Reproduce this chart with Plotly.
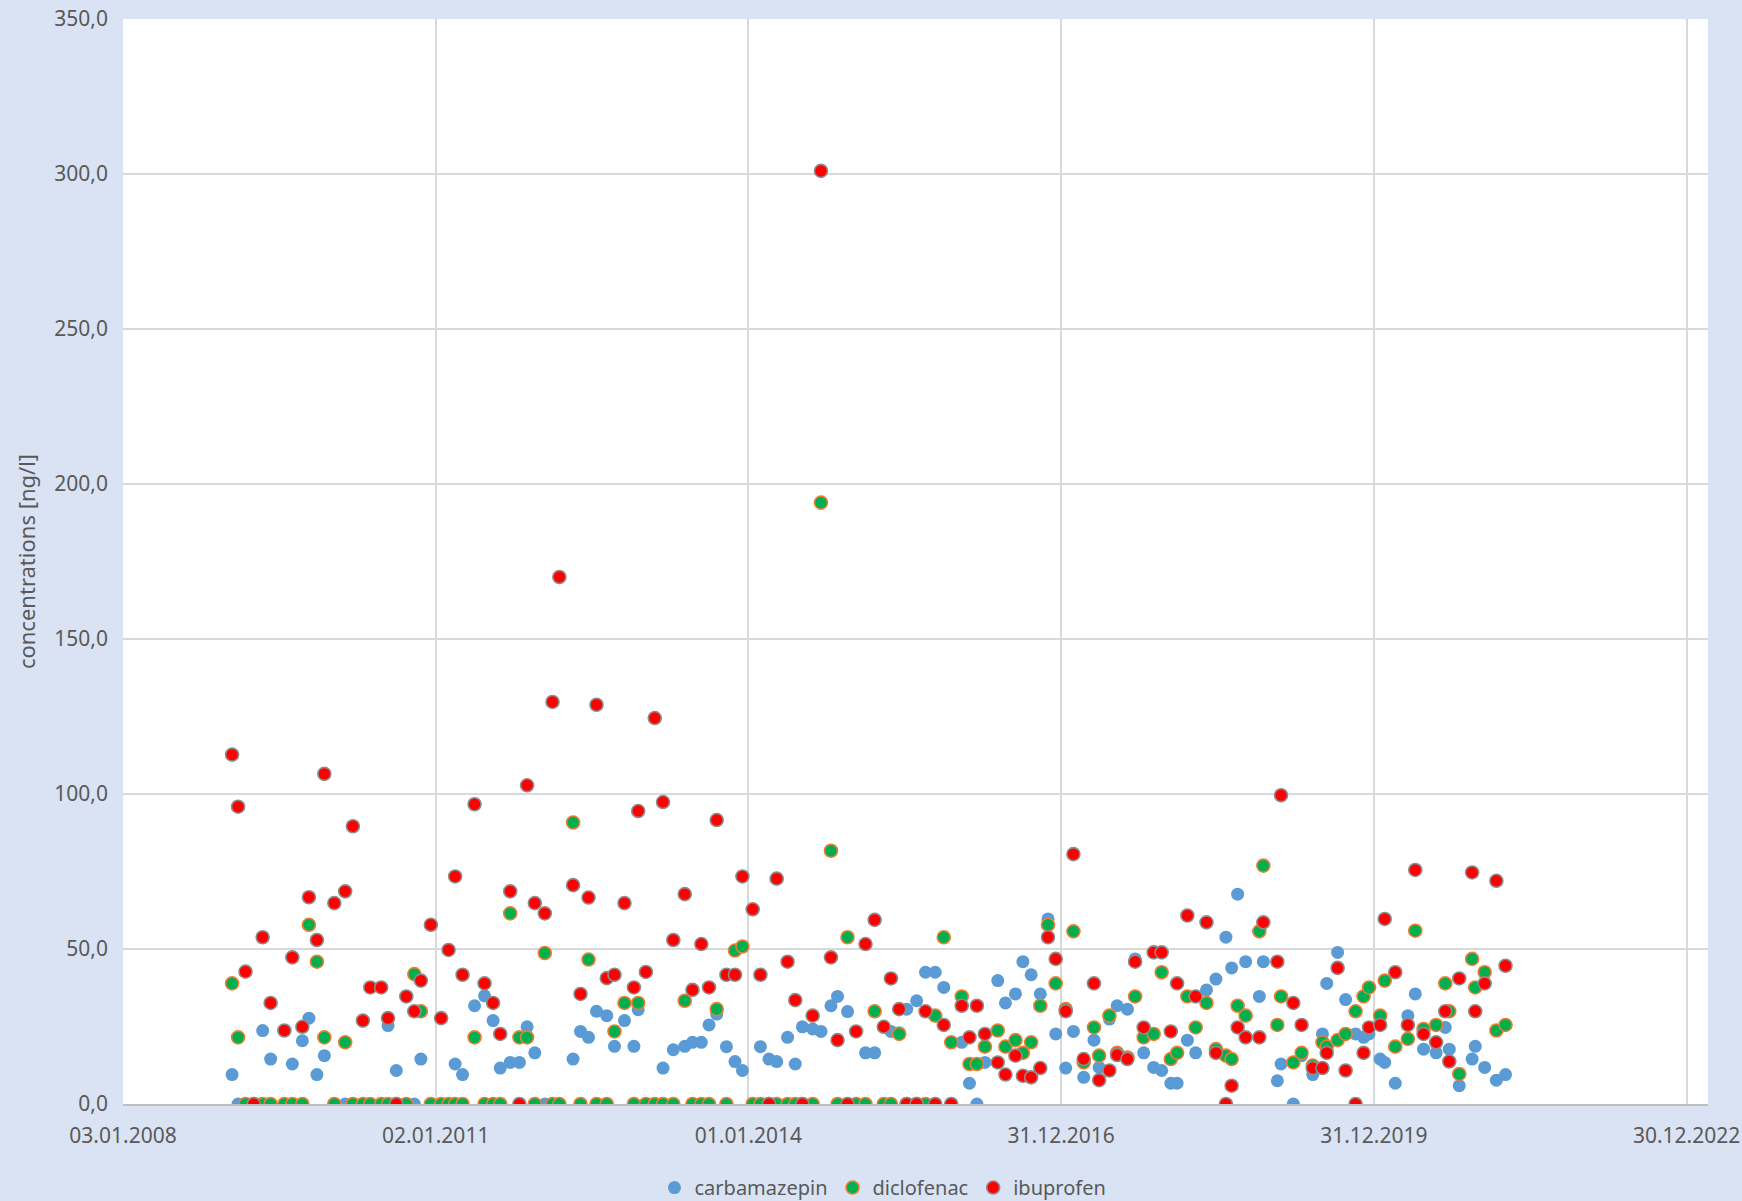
import plotly.graph_objects as go

# sampling dates (roughly monthly) and measured concentrations in ng/l
sample_dates = [
    "2009-01-19", "2009-02-09", "2009-03-07", "2009-04-05", "2009-05-06", "2009-06-03",
    "2009-07-21", "2009-08-18", "2009-09-22", "2009-10-15", "2009-11-12", "2009-12-08",
    "2010-01-12", "2010-02-19", "2010-03-18", "2010-04-22", "2010-05-18", "2010-06-25",
    "2010-07-19", "2010-08-17", "2010-09-21", "2010-10-19", "2010-11-11", "2010-12-16",
    "2011-01-21", "2011-02-16", "2011-03-11", "2011-04-06", "2011-05-18", "2011-06-22",
    "2011-07-22", "2011-08-16", "2011-09-20", "2011-10-22", "2011-11-18", "2011-12-15",
    "2012-01-19", "2012-02-15", "2012-03-10", "2012-04-27", "2012-05-23", "2012-06-20",
    "2012-07-18", "2012-08-23", "2012-09-19", "2012-10-24", "2012-11-26", "2012-12-11",
    "2013-01-07", "2013-02-07", "2013-03-08", "2013-04-13", "2013-05-23", "2013-06-19",
    "2013-07-20", "2013-08-16", "2013-09-12", "2013-10-16", "2013-11-15", "2013-12-11",
    "2014-01-16", "2014-02-12", "2014-03-14", "2014-04-10", "2014-05-18", "2014-06-14",
    "2014-07-09", "2014-08-14", "2014-09-12", "2014-10-17", "2014-11-09", "2014-12-14",
    "2015-01-13", "2015-02-15", "2015-03-19", "2015-04-20", "2015-05-15", "2015-06-13",
    "2015-07-09", "2015-08-13", "2015-09-13", "2015-10-17", "2015-11-16", "2015-12-12",
    "2016-01-18", "2016-02-14", "2016-03-11", "2016-04-08", "2016-05-23", "2016-06-19",
    "2016-07-24", "2016-08-19", "2016-09-17", "2016-10-19", "2016-11-15", "2016-12-12",
    "2017-01-16", "2017-02-12", "2017-03-20", "2017-04-25", "2017-05-13", "2017-06-18",
    "2017-07-15", "2017-08-20", "2017-09-16", "2017-10-16", "2017-11-20", "2017-12-18",
    "2018-01-19", "2018-02-10", "2018-03-18", "2018-04-16", "2018-05-24", "2018-06-26",
    "2018-07-31", "2018-08-20", "2018-09-10", "2018-10-08", "2018-11-25", "2018-12-09",
    "2019-01-27", "2019-02-09", "2019-03-24", "2019-04-22", "2019-05-31", "2019-07-04",
    "2019-07-19", "2019-08-26", "2019-09-23", "2019-10-28", "2019-11-25", "2019-12-14",
    "2020-01-22", "2020-02-07", "2020-03-15", "2020-04-28", "2020-05-24", "2020-06-22",
    "2020-08-05", "2020-09-06", "2020-09-20", "2020-10-25", "2020-12-09", "2020-12-20",
    "2021-01-22", "2021-03-04", "2021-04-05",
]

carbamazepin = [
    9.5, 0, 0, 0, 23.7, 14.5,
    0, 12.9, 20.4, 27.7, 9.5, 15.6,
    0, 0, 0, 0, 0, 0,
    25.3, 10.8, 0, 0, 14.5, 0,
    0, 0, 12.9, 9.5, 31.7, 34.9,
    26.9, 11.6, 13.4, 13.4, 24.9, 16.5,
    0, 0, 0, 14.5, 23.4, 21.5,
    29.9, 28.5, 18.6, 26.9, 18.6, 30.4,
    0, 0, 11.6, 17.5, 18.6, 19.9,
    19.9, 25.5, 29.0, 18.5, 13.7, 10.8,
    0, 18.5, 14.5, 13.7, 21.5, 12.9,
    24.9, 24.2, 23.4, 31.7, 34.7, 29.8,
    0, 16.5, 16.5, 0, 23.4, 23.0,
    30.6, 33.3, 42.5, 42.5, 37.6, 0,
    19.9, 6.7, 0, 13.4, 39.8, 32.6,
    35.5, 45.9, 41.7, 35.5, 59.7, 22.6,
    11.6, 23.4, 8.6, 20.6, 11.8, 27.4,
    31.7, 30.6, 46.8, 16.5, 11.8, 10.8,
    6.7, 6.7, 20.6, 16.5, 36.8, 40.3,
    53.8, 43.9, 67.7, 45.9, 34.7, 45.9,
    7.5, 12.9, 0, 15.6, 9.5, 22.6,
    38.9, 48.9, 33.7, 22.6, 21.5, 22.6,
    14.5, 13.4, 6.7, 28.5, 35.5, 17.7,
    16.5, 24.7, 17.7, 5.9, 14.5, 18.6,
    11.8, 7.7, 9.5,
]

diclofenac = [
    38.9, 21.5, 0, 0, 0, 0,
    0, 0, 0, 57.8, 45.9, 21.5,
    0, 19.9, 0, 0, 0, 0,
    0, 0, 0, 41.9, 29.9, 0,
    0, 0, 0, 0, 21.5, 0,
    0, 0, 61.5, 21.5, 21.5, 0,
    48.7, 0, 0, 90.8, 0, 46.6,
    0, 0, 23.4, 32.6, 0, 32.6,
    0, 0, 0, 0, 33.3, 0,
    0, 0, 30.6, 0, 49.5, 50.8,
    0, 0, 0, 0, 0, 0,
    0, 0, 194.0, 81.7, 0, 53.8,
    0, 0, 29.9, 0, 0, 22.6,
    0, 0, 0, 28.5, 53.8, 19.9,
    34.7, 12.9, 12.9, 18.5, 23.7, 18.5,
    20.6, 16.5, 19.9, 31.7, 57.8, 38.9,
    30.6, 55.7, 13.4, 24.7, 15.6, 28.5,
    16.5, 15.0, 34.7, 21.5, 22.6, 42.5,
    14.5, 16.5, 34.7, 24.7, 32.6, 17.7,
    15.6, 14.5, 31.7, 28.5, 55.7, 76.9,
    25.5, 34.7, 13.4, 16.5, 12.4, 19.9,
    18.5, 20.6, 22.6, 29.9, 34.7, 37.6,
    28.5, 39.8, 18.5, 21.0, 55.9, 24.2,
    25.5, 38.9, 29.9, 9.7, 46.8, 37.6,
    42.5, 23.7, 25.5,
]

ibuprofen = [
    112.7, 95.9, 42.7, 0, 53.8, 32.6,
    23.7, 47.3, 24.9, 66.7, 52.9, 106.5,
    64.8, 68.6, 89.6, 26.9, 37.6, 37.6,
    27.7, 0, 34.7, 29.9, 39.8, 57.8,
    27.7, 49.7, 73.4, 41.7, 96.7, 38.9,
    32.6, 22.6, 68.6, 0, 102.8, 64.8,
    61.5, 129.7, 170.0, 70.6, 35.5, 66.6,
    128.8, 40.6, 41.7, 64.8, 37.6, 94.5,
    42.6, 124.5, 97.4, 52.9, 67.7, 36.8,
    51.6, 37.6, 91.6, 41.7, 41.7, 73.4,
    62.8, 41.7, 0, 72.7, 45.9, 33.5,
    0, 28.5, 301.0, 47.3, 20.6, 0,
    23.4, 51.6, 59.4, 24.9, 40.5, 30.6,
    0, 0, 29.9, 0, 25.5, 0,
    31.7, 21.5, 31.7, 22.6, 13.4, 9.5,
    15.6, 9.1, 8.6, 11.6, 53.8, 46.8,
    29.9, 80.6, 14.5, 38.9, 7.7, 10.8,
    15.8, 14.5, 45.9, 24.7, 48.9, 48.9,
    23.4, 38.9, 60.8, 34.7, 58.6, 16.5,
    0, 5.9, 24.7, 21.5, 21.5, 58.6,
    45.9, 99.6, 32.6, 25.5, 11.6, 11.6,
    16.5, 43.9, 10.8, 0, 16.5, 24.7,
    25.5, 59.7, 42.5, 25.5, 75.5, 22.6,
    19.9, 29.9, 13.7, 40.5, 74.7, 29.9,
    38.9, 72.0, 44.6,
]

tick_dates = ["2008-01-03", "2011-01-02", "2014-01-01", "2016-12-31", "2019-12-31", "2022-12-30"]
tick_labels = ["03.01.2008", "02.01.2011", "01.01.2014", "31.12.2016", "31.12.2019", "30.12.2022"]

txt = "#595959"
fnt = "Noto Sans"

fig = go.Figure()
fig.add_trace(go.Scatter(x=sample_dates, y=carbamazepin, mode="markers", name="carbamazepin",
                         marker=dict(size=13, color="#5b9bd5", line=dict(width=0))))
fig.add_trace(go.Scatter(x=sample_dates, y=diclofenac, mode="markers", name="diclofenac",
                         marker=dict(size=13, color="#00b050", line=dict(width=1.6, color="#ed7d31"))))
fig.add_trace(go.Scatter(x=sample_dates, y=ibuprofen, mode="markers", name="ibuprofen",
                         marker=dict(size=13, color="#ff0000", line=dict(width=1.6, color="#8c8c8c"))))

fig.update_layout(
    width=1742, height=1201, autosize=False,
    paper_bgcolor="#dae3f3", plot_bgcolor="#ffffff",
    margin=dict(l=123, r=34, t=19, b=97, autoexpand=False),
    separators=",.",
    font=dict(family=fnt, size=21, color=txt),
    showlegend=True,
    legend=dict(orientation="h", x=0.4795, xanchor="center", y=-0.077, yanchor="middle",
                font=dict(size=20, color=txt), bgcolor="rgba(0,0,0,0)", itemwidth=30),
)
fig.update_xaxes(
    type="date", range=["2008-01-03", "2023-03-15"],
    tickmode="array", tickvals=tick_dates, ticktext=tick_labels,
    showgrid=True, gridcolor="#d9d9d9", gridwidth=1.5,
    showline=True, linecolor="#bfbfbf", linewidth=1.5,
    ticks="", tickfont=dict(size=21, color=txt), zeroline=False,
    ticklabelstandoff=12, ticklabeloverflow="allow",
)
fig.update_yaxes(
    range=[0, 350], dtick=50, tickformat=".1f",
    showgrid=True, gridcolor="#d9d9d9", gridwidth=1.5,
    showline=False, zeroline=False, ticks="",
    tickfont=dict(size=21, color=txt), ticklabelstandoff=14, ticklabeloverflow="allow",
    title=dict(text="concentrations [ng/l]", font=dict(size=22, color=txt), standoff=12),
)

# drop the default page margin so the figure fills the window edge to edge
fig.write_html("out.html", config={"displayModeBar": False},
               post_script="document.body.style.margin='0';document.body.style.background='#dae3f3';")
